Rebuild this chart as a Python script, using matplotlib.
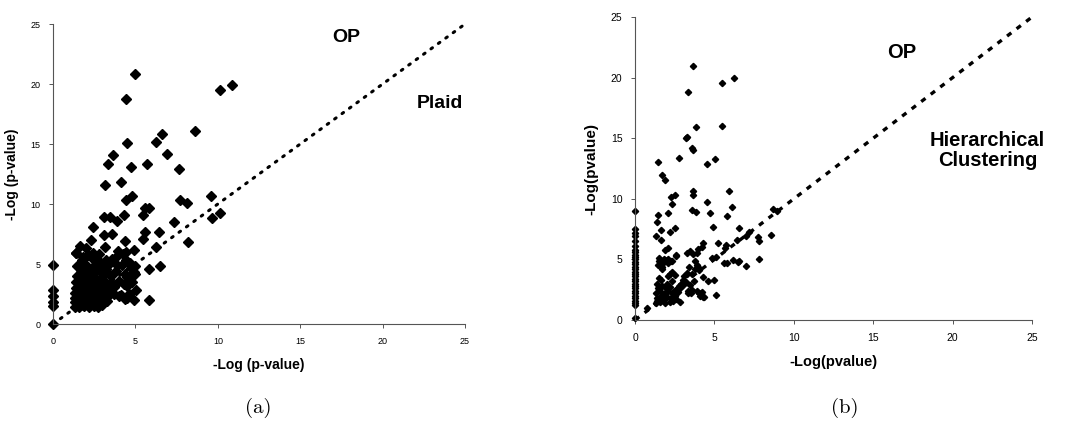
import matplotlib
matplotlib.use("Agg")
import matplotlib.pyplot as plt

plt.rcParams["font.family"] = ["Liberation Sans", "DejaVu Sans"]

# (a) OP vs Plaid
plaid_x = [4.96, 4.45, 10.16, 10.83, 8.6, 6.6, 6.25, 4.5, 3.64, 6.92, 3.32, 5.7, 4.76, 7.67,
           3.16, 4.13, 4.45, 4.82, 9.6, 7.73, 8.12, 5.57, 5.85, 10.16, 9.63, 3.08, 3.44, 4.31,
           3.9, 5.47, 7.37, 2.4, 3.08, 3.58, 5.59, 6.4, 5.47, 8.2, 2.29, 4.37, 3.16, 6.25, 1.66,
           1.98, 1.38, 2.1, 4.94, 4.45, 3.93, 4.61, 4.76, 4.9, 5.8, 6.48, 4.39, 4.49, 5.04, 4.94,
           5.83, 3.99, 4.49, 0, 0, 0, 0, 0, 0,
           1.35, 1.35, 1.35, 1.35, 1.4, 1.4, 1.45, 1.45, 1.4,
           1.6, 1.6, 1.65, 1.6, 1.7, 1.65, 1.7, 1.75, 1.8,
           1.9, 1.9, 1.95, 1.9, 2.0, 1.95, 2.05, 2.0,
           2.2, 2.2, 2.25, 2.2, 2.3, 2.3, 2.25, 2.35, 2.4,
           2.5, 2.5, 2.55, 2.5, 2.6, 2.55, 2.6, 2.7,
           2.75, 2.8, 2.75, 2.85, 2.8, 2.9, 2.85, 2.8, 2.95,
           3.0, 3.05, 3.1, 3.0, 3.15, 3.1, 3.2, 3.2,
           3.3, 3.35, 3.4, 3.45, 3.5, 3.4, 3.55,
           3.7, 3.7, 3.8, 3.9, 3.85, 4.0, 4.1, 4.2, 4.25, 4.3, 4.35, 4.6, 4.5, 4.7, 4.8, 4.95,
           4.95, 4.45,
           1.5, 1.8, 2.1, 2.4, 2.65, 1.7, 2.05, 2.35, 2.6, 1.55, 2.15, 2.45, 1.8, 3.25, 2.95]
plaid_y = [20.8, 18.75, 19.5, 19.9, 16.05, 15.8, 15.2, 15.05, 14.05, 14.2, 13.3, 13.3, 13.1, 12.9,
           11.55, 11.85, 10.3, 10.65, 10.65, 10.3, 10.1, 9.65, 9.65, 9.25, 8.85, 8.9, 8.95, 9.1,
           8.6, 9.1, 8.5, 8.1, 7.4, 7.5, 7.7, 7.7, 7.05, 6.85, 7.0, 6.9, 6.45, 6.45, 6.5,
           6.35, 5.9, 5.75, 6.2, 6.0, 6.05, 5.05, 4.7, 4.3, 4.55, 4.8, 4.2, 3.2, 2.85, 2.0,
           2.0, 2.35, 2.15, 4.9, 2.8, 2.3, 1.85, 1.5, 0,
           1.4, 1.8, 2.2, 2.6, 3.0, 3.5, 4.0, 4.8, 5.9,
           1.4, 1.9, 2.3, 2.8, 3.3, 3.8, 4.5, 5.3, 5.6,
           1.5, 2.0, 2.5, 3.0, 3.5, 4.2, 4.8, 2.2,
           1.4, 1.8, 2.4, 2.9, 3.4, 3.9, 4.6, 5.5, 5.9,
           1.5, 2.0, 2.6, 3.1, 3.7, 4.3, 5.0, 5.3,
           1.4, 1.8, 2.2, 2.7, 3.3, 3.8, 4.4, 5.8, 5.0,
           1.6, 2.0, 2.5, 3.0, 3.5, 4.1, 4.6, 5.3,
           1.9, 2.3, 2.9, 3.4, 4.0, 5.0, 5.4,
           2.5, 3.1, 4.4, 4.9, 5.6, 3.6, 2.4, 4.9, 5.8, 3.3, 2.1, 2.5, 3.9, 5.1, 3.5, 4.8,
           4.2, 5.3,
           2.5, 2.6, 2.7, 2.4, 1.7, 1.6, 1.7, 2.0, 3.4, 3.2, 3.2, 4.0, 4.0, 4.3, 3.5]

# (b) OP vs Hierarchical Clustering
hc_x = [3.67, 3.31, 5.47, 6.21, 5.45, 3.82, 3.25, 3.19, 3.57, 3.65, 2.79, 1.43, 5.05, 4.51,
        1.72, 1.91, 2.54, 2.27, 2.33, 3.63, 3.63, 5.91, 6.08, 4.51, 3.59, 3.86, 4.74, 2.08,
        1.47, 1.36, 5.81, 4.93, 2.54, 2.18, 1.62, 1.32, 1.62, 6.52, 7.17, 7.76, 7.82, 8.54,
        7.0, 6.4, 5.73, 5.66, 5.24, 4.26, 4.22, 3.98, 3.88, 3.67, 3.46, 3.25, 2.08, 1.49,
        1.99, 2.24, 2.58, 4.82, 5.07, 5.62, 5.77, 6.19, 6.57, 6.48, 7.0, 7.78, 3.88, 4.0,
        3.78, 3.57, 3.25, 4.57, 4.97, 4.3, 5.08, 4.3, 4.05, 3.36, 0.73, 8.7, 8.95,
        0, 0, 0, 0, 0, 0, 0, 0, 0, 0, 0, 0, 0, 0, 0, 0, 0, 0, 0, 0, 0, 0, 0, 0, 0, 0,
        0, 0, 0, 0, 0,
        1.35, 1.4, 1.35, 1.45, 1.4, 1.5, 1.45, 1.5, 1.4,
        1.6, 1.65, 1.6, 1.7, 1.65, 1.7, 1.75, 1.8,
        1.85, 1.9, 1.95, 1.9, 2.0, 2.05, 2.0, 2.1, 2.05, 2.1,
        2.2, 2.25, 2.3, 2.2, 2.35, 2.3, 2.4, 2.5, 2.55,
        2.6, 2.7, 2.75, 2.8, 2.85, 2.9, 3.0, 3.05, 3.1, 3.2,
        3.3, 3.35, 3.4, 3.45, 3.5, 3.6, 3.7, 3.75, 3.9, 4.0, 4.1, 4.2, 4.35,
        1.9, 2.6, 2.3, 1.7, 2.2, 2.5]
hc_y = [20.98, 18.8, 19.55, 19.93, 16.02, 15.89, 15.14, 15.0, 14.18, 13.99, 13.38, 13.05, 13.3, 12.86,
        11.95, 11.54, 10.3, 10.13, 9.58, 10.63, 10.3, 10.66, 9.36, 9.72, 9.11, 8.89, 8.84, 8.87,
        8.65, 8.12, 8.59, 7.71, 7.63, 7.24, 7.43, 6.94, 6.58, 7.63, 7.3, 6.83, 6.5, 7.05,
        6.97, 6.61, 6.2, 5.92, 6.39, 6.33, 6.0, 5.84, 5.51, 5.45, 5.73, 5.51, 5.92, 5.09,
        4.96, 4.85, 5.34, 5.09, 5.18, 4.74, 4.68, 4.96, 4.9, 4.79, 4.46, 5.01, 4.54, 4.32,
        4.18, 3.8, 3.8, 3.25, 3.3, 3.58, 2.04, 1.93, 2.26, 2.26, 0.96, 9.2, 9.0,
        9.0, 7.5, 7.2, 6.9, 6.5, 6.1, 5.8, 5.6, 5.4, 5.2, 5.0, 4.8, 4.6, 4.4, 4.2, 4.0,
        3.8, 3.6, 3.4, 3.2, 3.0, 2.8, 2.6, 2.4, 2.2, 2.0, 1.8, 1.6, 1.4, 1.2, 0.15,
        1.4, 1.8, 2.2, 2.6, 3.0, 3.5, 4.5, 4.9, 1.6,
        1.5, 2.0, 2.4, 2.8, 3.3, 4.2, 4.7, 5.0,
        1.7, 2.2, 2.6, 1.4, 1.9, 2.4, 3.0, 3.6, 4.7, 5.0,
        1.5, 1.8, 2.2, 2.7, 3.2, 4.0, 1.6, 2.0, 2.5,
        1.7, 2.3, 2.8, 1.5, 2.6, 3.0, 2.9, 3.3, 3.6, 3.1,
        3.9, 2.4, 4.4, 2.9, 2.2, 2.5, 3.2, 4.9, 2.4, 4.1, 2.0, 2.3, 1.9,
        5.8, 5.3, 4.9, 4.4, 3.8, 3.7]

diag = [0, 25]
ticks = [0, 5, 10, 15, 20, 25]

fig = plt.figure(figsize=(10.8, 4.26), dpi=100)
ax_a = fig.add_axes([0.0491, 0.2394, 0.3815, 0.7042])
ax_b = fig.add_axes([0.588, 0.2488, 0.3676, 0.7113])

ax_a.plot(diag, diag, color="black", linestyle=(0, (0.6, 2.4)), linewidth=2.2,
          dash_capstyle="round", zorder=1)
ax_a.plot(plaid_x, plaid_y, linestyle="none", marker="D", markersize=4.6,
          color="black", clip_on=False, zorder=2)

ax_b.plot(diag, diag, color="black", linestyle=(0, (1.6, 2.0)), linewidth=2.4, zorder=1)
ax_b.plot(hc_x, hc_y, linestyle="none", marker="D", markersize=3.2,
          color="black", clip_on=False, zorder=2)

for ax, tsize in ((ax_a, 6.5), (ax_b, 7.5)):
    ax.set_xlim(0, 25)
    ax.set_ylim(0, 25)
    ax.set_xticks(ticks)
    ax.set_yticks(ticks)
    ax.spines["top"].set_visible(False)
    ax.spines["right"].set_visible(False)
    for s in ("left", "bottom"):
        ax.spines[s].set_color("#555555")
        ax.spines[s].set_linewidth(0.8)
    ax.tick_params(direction="out", length=3, width=0.7, color="#555555",
                   labelsize=tsize, pad=6)

ax_a.set_xlabel("-Log (p-value)", fontsize=10, fontweight="bold", labelpad=9)
ax_a.set_ylabel("-Log (p-value)", fontsize=10, fontweight="bold", labelpad=8)
ax_b.set_xlabel("-Log(pvalue)", fontsize=10.5, fontweight="bold", labelpad=9)
ax_b.set_ylabel("-Log(pvalue)", fontsize=11, fontweight="bold", labelpad=9)

ax_a.text(17.8, 23.9, "OP", fontsize=14, fontweight="bold", ha="center", va="center")
ax_a.text(23.5, 18.4, "Plaid", fontsize=14, fontweight="bold", ha="center", va="center")
ax_b.text(16.8, 22.1, "OP", fontsize=14.5, fontweight="bold", ha="center", va="center")
ax_b.text(22.2, 14.0, "Hierarchical\nClustering", fontsize=14.5, fontweight="bold",
          ha="center", va="center", linespacing=1.1)

fig.text(258 / 1080, 1 - 408 / 426, "(a)", fontsize=15, family="cmr10",
         ha="center", va="center")
fig.text(845 / 1080, 1 - 408 / 426, "(b)", fontsize=15, family="cmr10",
         ha="center", va="center")

fig.savefig("out.png", dpi=100)
